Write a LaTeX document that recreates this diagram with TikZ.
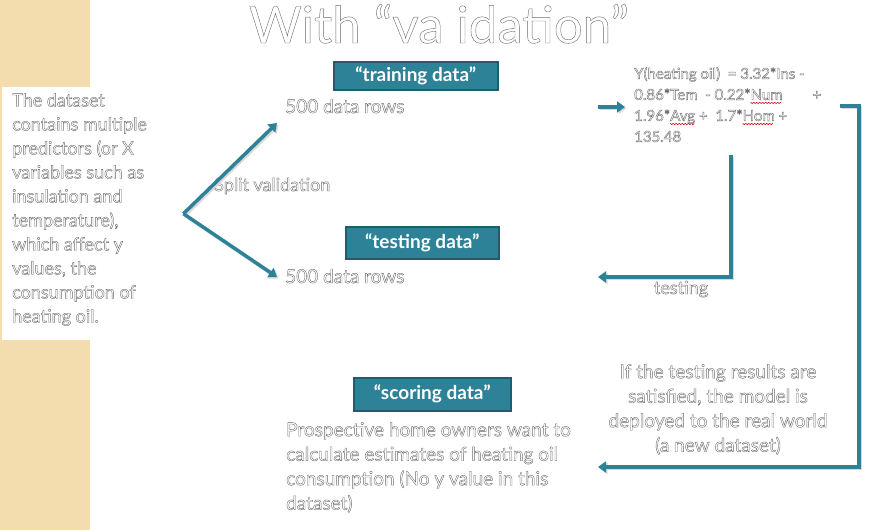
\documentclass[tikz,border=0pt]{standalone}
\usepackage{fontspec}
\setmainfont{Lato}
\usetikzlibrary{arrows.meta}
\definecolor{tealc}{HTML}{2E8297}
\definecolor{tealdark}{HTML}{1F5D6D}
\definecolor{beige}{HTML}{F3DCAE}
\newsavebox\sqbox
\newcommand\olt[1]{{\color{white}\special{pdf:literal direct 0.42 G 2 Tr 0.4 w}#1\special{pdf:literal direct 0 Tr}}}
\newcommand\sqw[1]{\sbox\sqbox{\olt{#1}}\rlap{\leaders\hbox to 3pt{\special{pdf:content 0.85 0 0 RG 0.6 w 0 -2.4 m 1.5 -3.8 l 3 -2.4 l S}\hfil}\hskip\wd\sqbox}\usebox\sqbox}
\begin{document}
\begin{tikzpicture}[x=1pt,y=-1pt,
  conn/.style={draw=tealc, line width=3.5pt, -{Triangle[length=8pt,width=11pt]},
    preaction={draw=black!15, line width=3.5pt, transform canvas={shift={(1.5pt,-1.5pt)}}}},
  lbl/.style={fill=tealc, draw=tealdark, line width=1.5pt, text=white, inner sep=0,
    font=\bfseries\fontsize{19}{22}\selectfont},
  body/.style={inner sep=0, font=\fontsize{18}{24}\selectfont, align=left},
  big/.style={inner sep=0, font=\fontsize{19}{24.5}\selectfont},
  eqtext/.style={inner sep=0, font=\fontsize{15}{21}\selectfont, align=left}]
\useasboundingbox (0,0) rectangle (869,530);
% background strip
\fill[beige] (0,0) rectangle (90,530);
% description box
\node[fill=white, inner sep=0, minimum width=181, minimum height=253, anchor=north west] (desc) at (2,87) {};
\node[body, anchor=north west] (desctext) at (12,93)
  {\olt{The dataset}\\\olt{contains multiple}\\\olt{predictors (or X}\\\olt{variables such as}\\\olt{insulation and}\\\olt{temperature),}\\\olt{which affect y}\\\olt{values, the}\\\olt{consumption of}\\\olt{heating oil.}};
% title
\node[inner sep=0, anchor=base, font=\fontsize{51}{58}\selectfont] (title) at (439,43)
  {\olt{With “va idation”}};
% labels
\node[lbl, minimum width=164, minimum height=28, anchor=north west] (train) at (333,61) {“training data”};
\node[lbl, minimum width=153, minimum height=32, anchor=north west] (test) at (345,226) {“testing data”};
\node[lbl, minimum width=157, minimum height=33, anchor=north west] (score) at (353,377) {“scoring data”};
% texts
\node[big, anchor=base west] (rows1) at (285,113) {\olt{500 data rows}};
\node[big, anchor=base west] (rows2) at (285,283) {\olt{500 data rows}};
\node[body, anchor=base west] (split) at (214,191) {\olt{Split validation}};
\node[eqtext, anchor=north west] (eq) at (634,67)
  {\olt{Y(heating oil) \ = 3.32*Ins -}\\
   \olt{0.86*Tem \ - 0.22*}\sqw{Num}\olt{\qquad +}\\
   \olt{1.96*}\sqw{Avg}\olt{ + \ 1.7*}\sqw{Hom}\olt{ +}\\
   \olt{135.48}};
\node[body, anchor=base] (testlbl) at (681,294) {\olt{testing}};
\node[big, align=center, anchor=north] (deploy) at (718,364)
  {\olt{If the testing results are}\\\olt{satisfied, the model is}\\\olt{deployed to the real world}\\\olt{(a new dataset)}};
\node[big, align=left, anchor=north west] (scoretext) at (286,422)
  {\olt{Prospective home owners want to}\\\olt{calculate estimates of heating oil}\\\olt{consumption (No y value in this}\\\olt{dataset)}};
% connector end points
\coordinate (t1) at (277,123);
\coordinate (t2) at (277,277);
\coordinate (e0) at (598,107);
\coordinate (e1) at (625,107);
\coordinate (d0) at (840,106);
\coordinate (d1) at (859,106);
\coordinate (d2) at (859,467);
\coordinate (d3) at (598,467);
\coordinate (s0) at (731,155);
\coordinate (s1) at (731,277);
\coordinate (s2) at (598,277);
% connectors
\draw[conn] (desc.east) -- (t1);
\draw[conn] (desc.east) -- (t2);
\draw[conn] (e0) -- (e1);
\draw[conn] (d0) -- (d1) -- (d2) -- (d3);
\draw[conn] (s0) -- (s1) -- (s2);
\end{tikzpicture}
\end{document}
